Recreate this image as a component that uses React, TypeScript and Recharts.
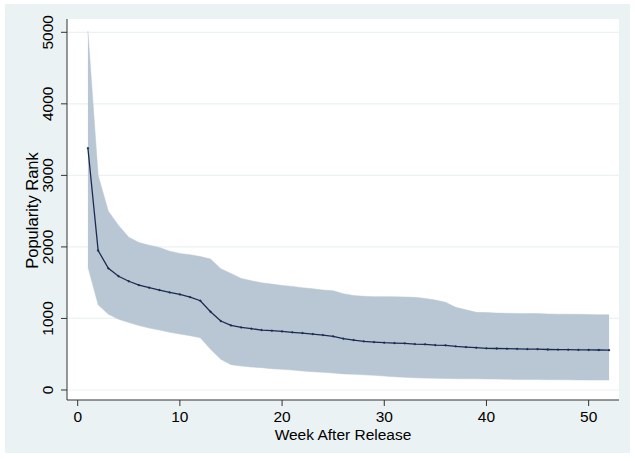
import React from 'react';
import { ComposedChart, Area, Line, XAxis, YAxis, CartesianGrid } from 'recharts';

const weeks = [1,2,3,4,5,6,7,8,9,10,11,12,13,14,15,16,17,18,19,20,21,22,23,24,25,26,27,28,29,30,31,32,33,34,35,36,37,38,39,40,41,42,43,44,45,46,47,48,49,50,51,52];
const meanRank = [3380,1950,1700,1590,1520,1465,1430,1397,1364,1336,1299,1248,1094,964,903,875,857,838,829,819,806,796,782,768,750,717,698,680,670,661,656,652,642,638,628,624,610,600,591,582,580,577,575,572,570,566,565,563,562,560,559,557];
const lowerRank = [1720,1190,1060,990,945,900,866,838,806,782,759,730,570,430,354,335,321,312,298,289,279,265,256,247,237,225,220,212,205,195,185,178,170,166,163,160,158,157,156,155,152,150,148,146,145,144,143,142,141,140,140,140];
const upperRank = [5020,3000,2500,2300,2135,2060,2025,1993,1941,1909,1890,1865,1830,1695,1630,1560,1527,1499,1480,1462,1448,1429,1415,1397,1387,1345,1320,1310,1305,1305,1303,1300,1295,1280,1257,1225,1155,1120,1085,1083,1075,1072,1070,1070,1068,1062,1060,1060,1058,1055,1052,1052];
const xTicks = [0,10,20,30,40,50];
const yTicks = [0,1000,2000,3000,4000,5000];

const data = weeks.map((w, i) => ({ week: w, mean: meanRank[i], range: [lowerRank[i], upperRank[i]] }));

const FONT = '"Liberation Sans", Arial, Helvetica, sans-serif';
const NAVY = '#1c2a52';
const BAND = '#b8c7d3';
const BG = '#eaf2f3';

const YTick = (props: any) => {
  const { y, payload } = props;
  return (
    <text x={0} y={0} transform={`translate(43,${y}) rotate(-90)`} textAnchor="middle" dy="0.35em" fontSize={15.5} fill="#000" fontFamily={FONT}>
      {payload.value}
    </text>
  );
};

const YLabel = () => (
  <text x={0} y={0} transform={`translate(27,206.5) rotate(-90)`} textAnchor="middle" dy="0.35em" fontSize={16.5} fill="#000" fontFamily={FONT}>
    Popularity Rank
  </text>
);

const XLabel = () => (
  <text x={338} y={431} textAnchor="middle" dy="0.35em" fontSize={15.5} fill="#000" fontFamily={FONT}>
    Week After Release
  </text>
);

export default function App() {
  return (
    <div style={{ position: 'absolute', left: 5, top: 4, width: 625, height: 449, background: BG }}>
      <ComposedChart width={625} height={449} data={data} margin={{ top: 15, right: 11, bottom: 0, left: 0 }}>
        <CartesianGrid vertical={false} stroke={BG} strokeWidth={1.2} fill="#ffffff" horizontalValues={yTicks} />
        <XAxis
          type="number"
          dataKey="week"
          domain={[-1.047, 52.97]}
          ticks={xTicks}
          allowDataOverflow
          height={53}
          tickSize={6}
          tickMargin={5}
          stroke="#333"
          tick={{ fill: '#000', fontSize: 15.5, fontFamily: FONT }}
          label={<XLabel />}
        />
        <YAxis
          type="number"
          domain={[-140, 5186]}
          ticks={yTicks}
          allowDataOverflow
          width={62}
          tickSize={6}
          stroke="#333"
          tick={<YTick />}
          label={<YLabel />}
        />
        <Area dataKey="range" type="linear" fill={BAND} fillOpacity={1} stroke={BAND} strokeWidth={0.5} isAnimationActive={false} dot={false} activeDot={false} />
        <Line dataKey="mean" type="linear" stroke={NAVY} strokeWidth={1.3} dot={{ r: 0.9, fill: NAVY, stroke: NAVY, strokeWidth: 0.4 }} activeDot={false} isAnimationActive={false} />
      </ComposedChart>
    </div>
  );
}
